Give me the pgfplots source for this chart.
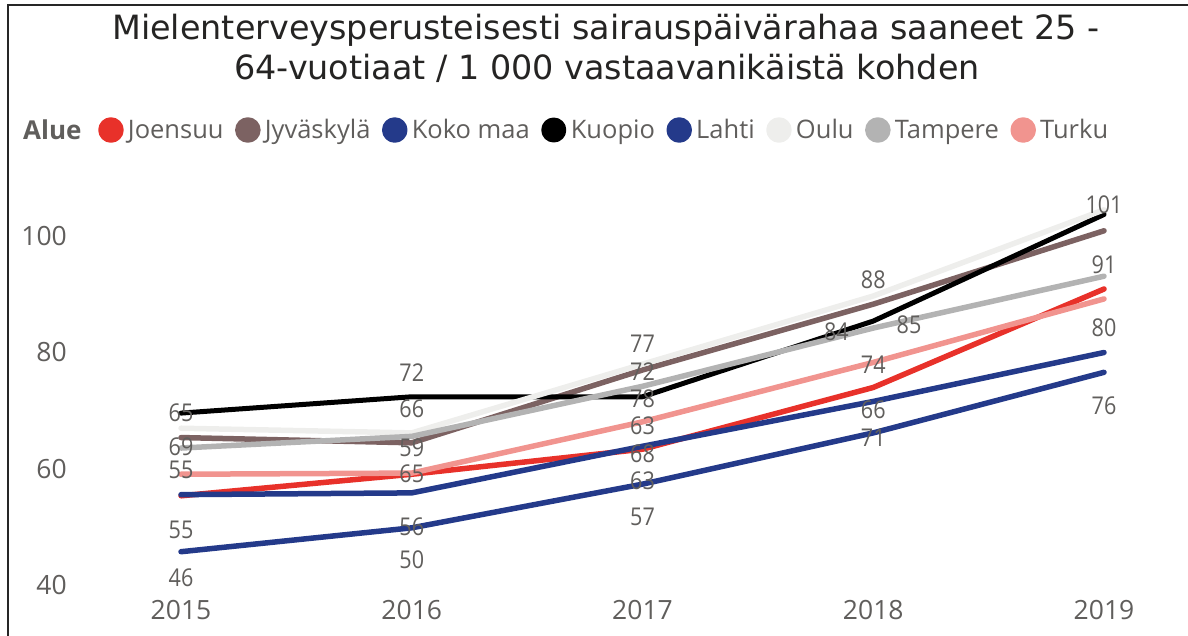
\documentclass[border=0pt]{standalone}
\usepackage{pgfplots}
\pgfplotsset{compat=1.18}
\usepackage{fontspec}
\setmainfont{Open Sans}
\newfontfamily\titlefont{DejaVu Sans}
\newfontfamily\lblfamily[FakeStretch=0.88]{Open Sans}
\definecolor{joensuu}{RGB}{232,49,42}
\definecolor{jyvaskyla}{RGB}{124,98,98}
\definecolor{navy}{RGB}{36,58,138}
\definecolor{oulu}{RGB}{238,238,236}
\definecolor{tampere}{RGB}{179,179,179}
\definecolor{turku}{RGB}{241,148,143}
\definecolor{textgray}{RGB}{96,94,92}
\definecolor{titlecol}{RGB}{37,36,35}
\tikzset{lbl/.style={font=\lblfamily\fontsize{24.5bp}{28bp}\selectfont, text=textgray, inner sep=0pt, anchor=center}}
\pgfplotsset{ser/.style={color=#1, line width=5.5bp, line cap=round, line join=round, no marks}}
\begin{document}
\begin{tikzpicture}
\path[use as bounding box] (0bp,0bp) rectangle (1188bp,636bp);
\draw[line width=2bp, color=black!85] (8bp,0bp) -- (8bp,631bp) -- (1188bp,631bp);
\node[anchor=base, font=\titlefont\fontsize{33.4bp}{40bp}\selectfont, text=titlecol, inner sep=0pt] at (606bp,596.7bp) {Mielenterveysperusteisesti sairauspäivärahaa saaneet 25 -};
\node[anchor=base, font=\titlefont\fontsize{33.4bp}{40bp}\selectfont, text=titlecol, inner sep=0pt] at (607bp,556.7bp) {64-vuotiaat / 1 000 vastaavanikäistä kohden};
\node[anchor=west, font=\bfseries\fontsize{26bp}{30bp}\selectfont, text=textgray, inner sep=0pt] at (23bp,506bp) {Alue};
\begin{axis}[
  at={(181bp,50.5bp)}, anchor=south west,
  scale only axis, width=923bp, height=378.6bp,
  xmin=2015, xmax=2019, ymin=40, ymax=105,
  clip=false,
  axis line style={draw=none},
  major tick length=0pt,
  tick style={draw=none},
  xtick={2015,2016,2017,2018,2019},
  xticklabels={2015,2016,2017,2018,2019},
  ytick={40,60,80,100},
  /pgf/number format/assume math mode=true,
  tick label style={font=\fontsize{26.5bp}{30bp}\selectfont, text=textgray, inner sep=0pt},
  yticklabel style={anchor=east, xshift=-114bp},
  xticklabel style={anchor=center, yshift=-24.5bp},
  legend columns=-1,
  legend style={at={(-0.0899,1.2031)}, anchor=west, draw=none, fill=none, inner sep=0pt,
    font=\fontsize{25.5bp}{30bp}\selectfont, text=textgray,
    nodes={inner xsep=0pt, inner ysep=0pt},
    /tikz/every even column/.append style={column sep=11.5bp}},
  legend image code/.code={\fill (10bp,0bp) circle (10bp); \path[draw=none] (0bp,0bp) -- (27bp,0bp);},
]
\addplot[ser=joensuu] coordinates {(2015,55.4) (2016,59.1) (2017,63.4) (2018,74.0) (2019,90.9)};
\addlegendentry{Joensuu}
\addplot[ser=jyvaskyla] coordinates {(2015,65.4) (2016,64.5) (2017,77.0) (2018,88.3) (2019,100.9)};
\addlegendentry{Jyväskylä}
\addplot[ser=navy] coordinates {(2015,55.6) (2016,55.9) (2017,63.9) (2018,71.6) (2019,80.0)};
\addlegendentry{Koko maa}
\addplot[ser=black, line width=5bp] coordinates {(2015,69.6) (2016,72.4) (2017,72.4) (2018,85.4) (2019,103.7)};
\addlegendentry{Kuopio}
\addplot[ser=navy] coordinates {(2015,45.8) (2016,49.9) (2017,57.4) (2018,66.2) (2019,76.6)};
\addlegendentry{Lahti}
\addplot[ser=oulu] coordinates {(2015,67.0) (2016,66.2) (2017,78.0) (2018,89.7) (2019,104.5)};
\addlegendentry{Oulu}
\addplot[ser=tampere] coordinates {(2015,63.6) (2016,65.6) (2017,74.2) (2018,84.2) (2019,93.1)};
\addlegendentry{Tampere}
\addplot[ser=turku] coordinates {(2015,59.1) (2016,59.3) (2017,68.1) (2018,78.3) (2019,89.2)};
\addlegendentry{Turku}
% data labels
\node[lbl] at (axis cs:2015,69.61) {65};
\node[lbl] at (axis cs:2015,63.83) {69};
\node[lbl] at (axis cs:2015,59.83) {55};
\node[lbl] at (axis cs:2015,49.53) {55};
\node[lbl] at (axis cs:2015,41.29) {46};
\node[lbl] at (axis cs:2016,76.53) {72};
\node[lbl] at (axis cs:2016,70.30) {66};
\node[lbl] at (axis cs:2016,63.66) {59};
\node[lbl] at (axis cs:2016,59.14) {65};
\node[lbl] at (axis cs:2016,50.09) {56};
\node[lbl] at (axis cs:2016,44.38) {50};
\node[lbl] at (axis cs:2017,81.46) {77};
\node[lbl] at (axis cs:2017,76.65) {72};
\node[lbl] at (axis cs:2017,72.02) {78};
\node[lbl] at (axis cs:2017,67.43) {63};
\node[lbl] at (axis cs:2017,62.58) {68};
\node[lbl] at (axis cs:2017,57.99) {63};
\node[lbl] at (axis cs:2017,51.76) {57};
\node[lbl] at (axis cs:2018,92.45) {88};
\node[lbl] at (axis cs:2017.84,83.57) {84};
\node[lbl] at (axis cs:2018.155,84.72) {85};
\node[lbl] at (axis cs:2018,77.85) {74};
\node[lbl] at (axis cs:2018,70.13) {66};
\node[lbl] at (axis cs:2018,65.37) {71};
\node[lbl] at (axis cs:2019,105.32) {101};
\node[lbl] at (axis cs:2019,95.02) {91};
\node[lbl] at (axis cs:2019,84.21) {80};
\node[lbl] at (axis cs:2019,70.82) {76};
\end{axis}
\end{tikzpicture}
\end{document}
